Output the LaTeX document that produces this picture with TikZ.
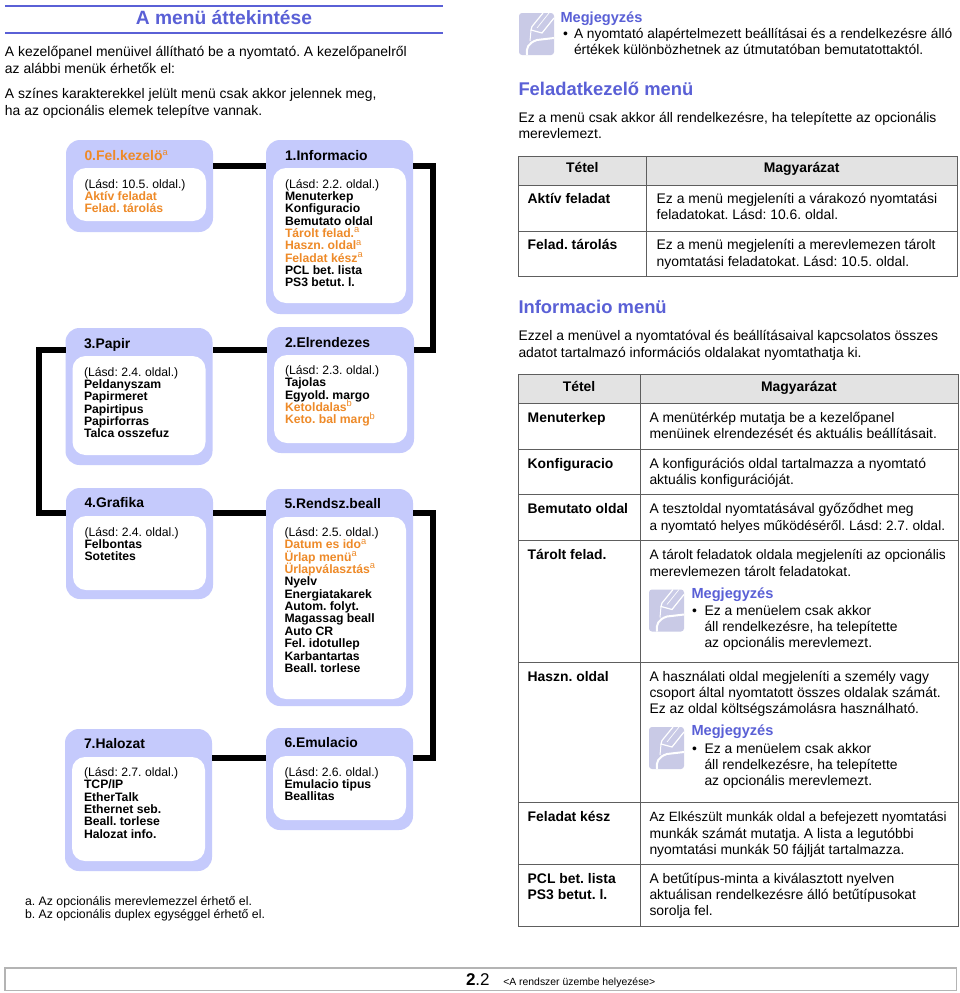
\documentclass[tikz,border=0pt]{standalone}
\usepackage{fontspec}
\setmainfont{Liberation Sans}
\frenchspacing
\lineskiplimit=-30pt
\definecolor{hblue}{HTML}{5A60D6}
\definecolor{boxblue}{HTML}{C5CAFC}
\definecolor{opt}{HTML}{EE8A28}
\definecolor{iconc}{HTML}{C9CAE6}
\definecolor{tline}{HTML}{5E5E5E}
\definecolor{thead}{HTML}{E3E3E3}
\definecolor{footl}{HTML}{B4B4B4}
\newcount\tcnt
\newcommand\tx[4][]{\global\advance\tcnt by 1\relax
  \node[txt,#1] (t\the\tcnt) at (#2,#3-20) {\rule{0pt}{20pt}#4};}
\newcommand\menubox[6]{% name x y w h innerh
  \node[outerbox,minimum width=#4 pt,minimum height=#5 pt] (#1) at (#2,#3) {};
  \node[innerbox,minimum width=#4 pt-14pt,minimum height=#6 pt] (#1i) at (#2+7,#3+28) {};}
\newcommand\supx[1]{\smash{\raisebox{4.6pt}{\fontsize{9.3}{9.3}\selectfont\mdseries #1}}}
\newcommand\sa{\supx{a}}
\newcommand\sbb{\supx{b}}
\newcommand\oo[1]{\textcolor{opt}{#1}}
\newcommand\lsz[2]{{\fontsize{#1}{16.3}\selectfont #2}}
\tikzset{
  txt/.style={anchor=north west,inner sep=0pt,outer sep=0pt,align=left,font=\fontsize{13.9}{16.3}\selectfont},
  ttl/.style={font=\fontsize{19.2}{20}\selectfont\bfseries,text=hblue},
  hd/.style={font=\fontsize{18.4}{20}\selectfont\bfseries,text=hblue},
  nt/.style={font=\fontsize{14.6}{16}\selectfont\bfseries,text=hblue},
  bhead/.style={font=\fontsize{13.9}{16}\selectfont\bfseries},
  bt/.style={font=\fontsize{12.2}{12.35}\selectfont\bfseries},
  tb/.style={font=\fontsize{13.9}{16.3}\selectfont\bfseries},
  fn/.style={font=\fontsize{12.3}{12.5}\selectfont},
  mid/.style={anchor=north,align=center},
  outerbox/.style={anchor=north west,fill=boxblue,draw=none,rounded corners=14pt,inner sep=0pt,outer sep=0pt},
  innerbox/.style={anchor=north west,fill=white,draw=none,rounded corners=13pt,inner sep=0pt,outer sep=0pt},
  conn/.style={draw=black,line width=6.3pt,line join=miter,line cap=butt},
  tbl/.style={draw=tline,line width=1pt},
  noteicon/.pic={
    \fill[iconc,rounded corners=3pt] (0,0) rectangle (35,42);
    \draw[white,line width=1.2pt] (24,0) -- (13,13.5) -- (12,17) -- (23,20) -- (35,5);
    \draw[white,line width=.7pt] (30,0) -- (18,15);
    \draw[white,line width=1pt] (12,17) -- (11,28);
    \draw[white,line width=2pt] (35,25) -- (18,27) .. controls (9,30) and (7,35) .. (8,42);
  }
}
\begin{document}
\begin{tikzpicture}[x=1pt,y=-1pt]
\useasboundingbox (0,0) rectangle (960,993);
\fill[white] (0,0) rectangle (960,993);
% left column head
\draw[hblue,line width=2pt] (5,5.5) -- (443,5.5);
\draw[hblue,line width=2pt] (5,33) -- (443,33);
\tx[ttl,mid]{224}{24}{A menü áttekintése}
\tx{5}{56.7}{A kezelőpanel menüivel állítható be a nyomtató. A kezelőpanelről\\az alábbi menük érhetők el:}
\tx{5}{98.7}{A színes karakterekkel jelült menü csak akkor jelennek meg,\\ha az opcionális elemek telepítve vannak.}
% menu boxes
\menubox{b0}{66}{140}{147}{92}{53}
\menubox{b1}{266}{140}{147}{174}{135}
\menubox{b3}{65.5}{328}{147}{137}{99}
\menubox{b2}{267}{327}{147}{126}{88}
\menubox{b4}{66}{488}{147}{111}{74}
\menubox{b5}{266}{489}{147}{217}{182}
\menubox{b7}{65}{729}{147}{142}{104}
\menubox{b6}{266}{728}{147}{102}{64}
% connectors
\coordinate (k1) at (433,166);
\coordinate (k2) at (433,350);
\coordinate (k3) at (39,350);
\coordinate (k4) at (39,513.3);
\coordinate (k5) at (433,513.3);
\coordinate (k6) at (433,758.3);
\draw[conn] ([yshift=-26pt]b0.north east) -- ([yshift=-26pt]b1.north west);
\draw[conn] ([yshift=-26pt]b1.north east) -- (k1) -- (k2) -- ([yshift=-23pt]b2.north east);
\draw[conn] ([yshift=-23pt]b2.north west) -- ([yshift=-22pt]b3.north east);
\draw[conn] ([yshift=-22pt]b3.north west) -- (k3) -- (k4) -- ([yshift=-25.3pt]b4.north west);
\draw[conn] ([yshift=-25.3pt]b4.north east) -- ([yshift=-24.3pt]b5.north west);
\draw[conn] ([yshift=-24.3pt]b5.north east) -- (k5) -- (k6) -- ([yshift=-30.3pt]b6.north east);
\draw[conn] ([yshift=-30.3pt]b6.north west) -- ([yshift=-29.3pt]b7.north east);
% box texts
\tx[bhead]{84.5}{160}{\oo{0.Fel.kezelö\sa}}
\tx[bt]{84.5}{188}{\mdseries (Lásd: 10.5. oldal.)\\\oo{Aktív feladat}\\\oo{Felad. tárolás}}
\tx[bhead]{285}{160}{1.Informacio}
\tx[bt]{285}{188}{\mdseries (Lásd: 2.2. oldal.)\\Menuterkep\\Konfiguracio\\Bemutato oldal\\\oo{Tárolt felad.\sa}\\\oo{Haszn. oldal\sa}\\\oo{Feladat kész\sa}\\PCL bet. lista\\PS3 betut. l.}
\tx[bhead]{84}{348}{3.Papir}
\tx[bt]{84}{376}{\mdseries (Lásd: 2.4. oldal.)\\Peldanyszam\\Papirmeret\\Papirtipus\\Papirforras\\Talca osszefuz}
\tx[bhead]{285}{347}{2.Elrendezes}
\tx[bt]{285}{374.5}{\mdseries (Lásd: 2.3. oldal.)\\Tajolas\\Egyold. margo\\\oo{Ketoldalas\sbb}\\\oo{Keto. bal marg\sbb}}
\tx[bhead]{84.5}{507.5}{4.Grafika}
\tx[bt]{84.5}{536}{\mdseries (Lásd: 2.4. oldal.)\\Felbontas\\Sotetites}
\tx[bhead]{284.5}{508.5}{5.Rendsz.beall}
\tx[bt]{284.5}{536.5}{\mdseries (Lásd: 2.5. oldal.)\\\oo{Datum es ido\sa}\\\oo{Ürlap menü\sa}\\\oo{Ürlapválasztás\sa}\\Nyelv\\Energiatakarek\\Autom. folyt.\\Magassag beall\\Auto CR\\Fel. idotullep\\Karbantartas\\Beall. torlese}
\tx[bhead]{84}{748}{7.Halozat}
\tx[bt]{84}{776.5}{\mdseries (Lásd: 2.7. oldal.)\\TCP/IP\\EtherTalk\\Ethernet seb.\\Beall. torlese\\Halozat info.}
\tx[bhead]{284.5}{747.7}{6.Emulacio}
\tx[bt]{284.5}{776}{\mdseries (Lásd: 2.6. oldal.)\\Emulacio tipus\\Beallitas}
% footnotes
\tx[fn]{25}{905.7}{a. Az opcionális merevlemezzel érhető el.\\b. Az opcionális duplex egységgel érhető el.}
% right column
\pic at (519,13) {noteicon};
\tx[nt]{560.5}{22.3}{Megjegyzés}
\tx{563}{38.5}{•}
\tx{574}{38.5}{\lsz{13.75}{A nyomtató alapértelmezett beállításai és a rendelkezésre álló}\\értékek különbözhetnek az útmutatóban bemutatottaktól.}
\tx[hd]{518.5}{95}{Feladatkezelő menü}
\tx{518.5}{122}{Ez a menü csak akkor áll rendelkezésre, ha telepítette az opcionális\\merevlemezt.}
% table 1
\fill[thead] (518.5,156) rectangle (957,185);
\draw[tbl] (518.5,156) rectangle (957,276.5);
\draw[tbl] (646.5,156) -- (646.5,276.5);
\draw[tbl] (518.5,185) -- (957,185);
\draw[tbl] (518.5,231) -- (957,231);
\tx[tb,mid]{582.3}{172.7}{Tétel}
\tx[tb,mid]{801.7}{172.7}{Magyarázat}
\tx[tb]{527.7}{203.5}{Aktív feladat}
\tx{656.7}{203.5}{Ez a menü megjeleníti a várakozó nyomtatási\\feladatokat. Lásd: 10.6. oldal.}
\tx[tb]{527.7}{249.7}{Felad. tárolás}
\tx{656.7}{249.7}{Ez a menü megjeleníti a merevlemezen tárolt\\nyomtatási feladatokat. Lásd: 10.5. oldal.}
\tx[hd]{518.5}{313.3}{Informacio menü}
\tx{518.5}{340.7}{Ezzel a menüvel a nyomtatóval és beállításaival kapcsolatos összes\\adatot tartalmazó információs oldalakat nyomtathatja ki.}
% table 2
\fill[thead] (518,374.5) rectangle (958,403.5);
\draw[tbl] (518,374.5) rectangle (958,926);
\draw[tbl] (640,374.5) -- (640,926);
\foreach \yy in {403.5,449,494.7,540.3,662,802.7,864.3} \draw[tbl] (518,\yy) -- (958,\yy);
\tx[tb,mid]{579}{391}{Tétel}
\tx[tb,mid]{799}{391}{Magyarázat}
\tx[tb]{527.7}{422.3}{Menuterkep}
\tx{649.5}{422.3}{A menütérkép mutatja be a kezelőpanel\\menüinek elrendezését és aktuális beállításait.}
\tx[tb]{527.7}{468}{Konfiguracio}
\tx{649.5}{468}{A konfigurációs oldal tartalmazza a nyomtató\\aktuális konfigurációját.}
\tx[tb]{527.7}{513.7}{Bemutato oldal}
\tx{649.5}{513.7}{A tesztoldal nyomtatásával győződhet meg\\\lsz{13.6}{a nyomtató helyes működéséről. Lásd: 2.7. oldal.}}
\tx[tb]{527.7}{559.7}{Tárolt felad.}
\tx{649.5}{559.7}{\lsz{13.7}{A tárolt feladatok oldala megjeleníti az opcionális}\\merevlemezen tárolt feladatokat.}
\pic at (649,589.5) {noteicon};
\tx[nt]{691.5}{598.3}{Megjegyzés}
\tx{692}{615}{•}
\tx{704.5}{615}{Ez a menüelem csak akkor\\áll rendelkezésre, ha telepítette\\az opcionális merevlemezt.}
\tx[tb]{527.7}{681}{Haszn. oldal}
\tx{649.5}{681}{A használati oldal megjeleníti a személy vagy\\csoport által nyomtatott összes oldalak számát.\\Ez az oldal költségszámolásra használható.}
\pic at (649,727) {noteicon};
\tx[nt]{691.5}{735.7}{Megjegyzés}
\tx{692}{753}{•}
\tx{704.5}{753}{Ez a menüelem csak akkor\\áll rendelkezésre, ha telepítette\\az opcionális merevlemezt.}
\tx[tb]{527.7}{821.7}{Feladat kész}
\tx{649.5}{821.7}{\lsz{13.4}{Az Elkészült munkák oldal a befejezett nyomtatási}\\munkák számát mutatja. A lista a legutóbbi\\nyomtatási munkák 50 fájlját tartalmazza.}
\tx[tb]{527.7}{883.3}{PCL bet. lista\\PS3 betut. l.}
\tx{649.5}{883.3}{A betűtípus-minta a kiválasztott nyelven\\aktuálisan rendelkezésre álló betűtípusokat\\sorolja fel.}
% footer
\draw[footl,line width=1.3pt] (5,968) rectangle (956.5,990.5);
\tx[font=\fontsize{17}{20}\selectfont]{466}{985.7}{\textbf{2}.2}
\tx[font=\fontsize{10.4}{13}\selectfont]{503.3}{985}{<A rendszer üzembe helyezése>}
\end{tikzpicture}
\end{document}
